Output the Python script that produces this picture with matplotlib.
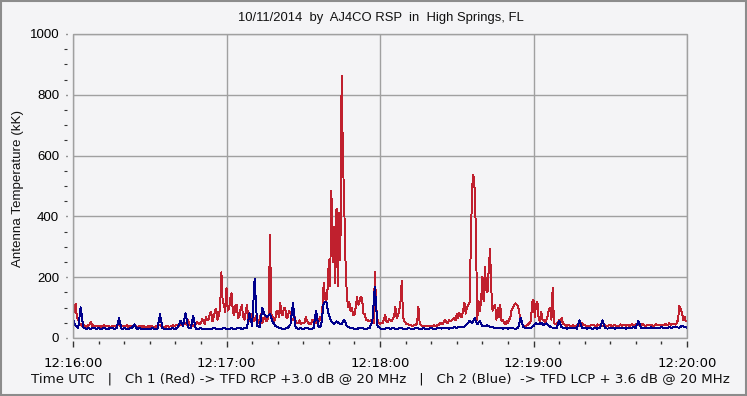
"""
Antenna temperature record, AJ4CO RSP, 10/11/2014
"""

import matplotlib
matplotlib.use('Agg')
import matplotlib.dates as mdates
import matplotlib.pyplot as plt
import numpy as np
from matplotlib.patches import Rectangle

# Ch 1, one value every half second, 12:16:00 .. 12:20:00 (kK)
red_kk = [
    75, 100, 112, 70, 60, 48, 45, 40, 40, 42, 38, 36, 42, 45, 54, 40, 42, 38, 38, 40,
    40, 38, 36, 40, 42, 38, 38, 41, 40, 37, 37, 40, 41, 38, 38, 42, 44, 39, 40, 38,
    38, 40, 42, 37, 37, 40, 40, 38, 38, 41, 36, 38, 40, 36, 38, 40, 35, 37, 37, 39,
    36, 39, 38, 35, 35, 38, 40, 42, 42, 38, 38, 36, 36, 39, 40, 37, 38, 40, 42, 39,
    40, 43, 44, 40, 50, 44, 45, 48, 48, 42, 59, 45, 42, 40, 40, 44, 45, 52, 50, 46,
    48, 62, 55, 45, 70, 58, 62, 80, 85, 55, 68, 90, 95, 60, 75, 100, 216, 120, 110, 85,
    165, 90, 95, 130, 147, 85, 75, 105, 110, 65, 70, 95, 108, 70, 60, 85, 108, 65, 55, 80,
    75, 55, 60, 72, 55, 48, 65, 80, 50, 62, 70, 55, 60, 75, 339, 80, 70, 55, 60, 85,
    90, 70, 114, 80, 75, 100, 95, 65, 70, 90, 80, 60, 60, 75, 55, 48, 50, 58, 45, 50,
    48, 52, 70, 55, 50, 45, 45, 58, 60, 48, 50, 62, 55, 70, 60, 100, 182, 130, 120, 160,
    256, 170, 483, 250, 366, 180, 426, 170, 410, 256, 863, 596, 443, 256, 147, 103, 120, 90, 100, 75,
    75, 100, 134, 110, 120, 136, 130, 80, 80, 60, 60, 55, 55, 60, 50, 48, 217, 100, 60, 50,
    45, 50, 48, 60, 76, 55, 52, 62, 60, 55, 62, 70, 103, 65, 75, 90, 120, 188, 70, 55,
    50, 45, 45, 42, 42, 40, 40, 43, 44, 48, 103, 50, 42, 40, 40, 38, 38, 40, 40, 38,
    38, 40, 42, 40, 40, 42, 44, 48, 50, 45, 55, 60, 52, 48, 60, 55, 58, 62, 65, 58,
    80, 65, 84, 70, 70, 90, 116, 80, 100, 110, 116, 300, 498, 536, 490, 345, 60, 122, 90, 120,
    202, 120, 235, 160, 150, 225, 293, 160, 90, 105, 110, 60, 100, 70, 110, 55, 60, 48, 45, 55,
    50, 60, 70, 95, 100, 110, 114, 110, 105, 80, 60, 45, 42, 40, 40, 42, 45, 50, 55, 120,
    125, 70, 110, 120, 65, 55, 87, 60, 58, 52, 60, 70, 92, 100, 60, 166, 50, 45, 45, 50,
    60, 50, 65, 48, 45, 42, 40, 44, 42, 40, 38, 42, 40, 38, 44, 40, 40, 45, 50, 42,
    42, 40, 40, 38, 38, 42, 42, 44, 40, 38, 45, 42, 40, 38, 38, 42, 42, 40, 40, 43,
    44, 40, 40, 42, 42, 38, 38, 41, 45, 40, 42, 44, 40, 42, 44, 40, 42, 46, 40, 38,
    45, 42, 44, 40, 42, 45, 45, 40, 40, 42, 42, 44, 44, 40, 40, 43, 45, 42, 42, 44,
    44, 41, 42, 45, 45, 42, 48, 44, 44, 46, 46, 44, 50, 60, 105, 95, 85, 60, 70, 55,
    55,
]

# Ch 2, one value per second (kK)
blue_kk = [
    60, 40, 32, 101, 35, 30, 32, 30, 34, 30,
    32, 30, 33, 30, 31, 34, 30, 32, 65, 30,
    32, 30, 31, 33, 45, 30, 32, 30, 29, 31,
    30, 32, 30, 31, 78, 32, 30, 31, 30, 32,
    30, 35, 56, 40, 81, 35, 32, 72, 31, 30,
    32, 30, 31, 29, 30, 33, 30, 31, 30, 32,
    31, 30, 32, 30, 31, 34, 30, 32, 33, 81,
    40, 194, 40, 35, 98, 75, 70, 78, 55, 40,
    35, 32, 30, 31, 33, 45, 114, 35, 30, 32,
    30, 33, 31, 30, 32, 90, 35, 40, 116, 120,
    75, 55, 45, 55, 48, 45, 60, 40, 35, 32,
    31, 30, 33, 32, 30, 31, 34, 55, 169, 40,
    32, 30, 31, 33, 30, 32, 31, 30, 34, 31,
    30, 32, 31, 30, 33, 31, 30, 32, 30, 31,
    32, 30, 31, 33, 31, 32, 34, 31, 33, 35,
    34, 36, 35, 38, 45, 56, 50, 65, 45, 56,
    40, 38, 42, 36, 35, 33, 34, 32, 31, 32,
    31, 33, 32, 30, 34, 65, 36, 33, 32, 34,
    40, 49, 45, 50, 42, 48, 40, 35, 33, 32,
    56, 35, 33, 31, 32, 34, 33, 31, 58, 33,
    32, 31, 33, 30, 32, 31, 33, 58, 32, 31,
    33, 32, 31, 34, 32, 33, 31, 32, 33, 35,
    34, 56, 33, 32, 34, 33, 35, 32, 34, 33,
    35, 34, 33, 35, 34, 36, 35, 34, 40, 36,
    34,
]

start_time = '2014-10-11T12:16:00'
title = '10/11/2014  by  AJ4CO RSP  in  High Springs, FL'
y_label = 'Antenna Temperature (kK)'
footer = ('Time UTC   |   Ch 1 (Red) -> TFD RCP +3.0 dB @ 20 MHz   |   '
          'Ch 2 (Blue)  -> TFD LCP + 3.6 dB @ 20 MHz')

BG = '#f4f4f6'
GRID = '#a0a0a0'

t0 = np.datetime64(start_time)
red_times = t0 + (np.arange(len(red_kk)) * 500).astype('timedelta64[ms]')
blue_times = t0 + np.arange(len(blue_kk)).astype('timedelta64[s]')

fig = plt.figure(figsize=(7.47, 3.96), dpi=100, facecolor=BG)
ax = fig.add_axes([73 / 747, 1 - 338 / 396, 614 / 747, 304 / 396])
ax.set_facecolor(BG)

ax.plot(red_times, red_kk, color='#c0202e', lw=0.7, antialiased=False, zorder=2)
ax.plot(blue_times, blue_kk, color='#00008c', lw=0.7, antialiased=False, zorder=2.1)

ax.set_xlim(t0, t0 + np.timedelta64(240, 's'))
ax.set_ylim(0, 1000)

ax.xaxis.set_major_locator(mdates.MinuteLocator())
ax.xaxis.set_minor_locator(mdates.SecondLocator(bysecond=range(0, 60, 10)))
ax.xaxis.set_major_formatter(mdates.DateFormatter('%H:%M:%S'))
ax.yaxis.set_major_locator(plt.MultipleLocator(200))
ax.yaxis.set_minor_locator(plt.MultipleLocator(50))

ax.grid(True, which='major', color=GRID, lw=1)

for side in ['left', 'bottom', 'top', 'right']:
    ax.spines[side].set_visible(False)
ax.spines['left'].set_position(('outward', 4))
ax.spines['bottom'].set_position(('outward', 2.5))
ax.add_patch(Rectangle((0, 0), 1, 1, transform=ax.transAxes, fill=False,
                       edgecolor=GRID, lw=1, clip_on=False, zorder=3))

ax.tick_params(axis='y', which='major', length=1, width=1, color='#333333',
               pad=5, labelsize=9.5)
ax.tick_params(axis='y', which='minor', length=2.3, width=0.8, color='#333333')
ax.tick_params(axis='x', which='major', length=4.3, width=1, color='#333333',
               pad=7, labelsize=9.5)
ax.tick_params(axis='x', which='minor', length=1.8, width=1, color='#333333')
for lab in ax.get_yticklabels():
    lab.set_fontfamily('Liberation Sans')
for lab in ax.get_xticklabels():
    lab.set_fontfamily('DejaVu Sans')

fig.text(381 / 747, 1 - 18 / 396, title, ha='center', va='center',
         fontsize=9.4, family='Liberation Sans', color='#111111')
fig.text(18 / 747, 1 - 188 / 396, y_label, ha='center', va='center',
         rotation=90, fontsize=9.6, family='Liberation Sans', color='#111111')
fig.text(380.5 / 747, 1 - 379 / 396, footer, ha='center', va='center',
         fontsize=9.6, family='DejaVu Sans', color='#111111')

# sunken window border
fig.patches.append(Rectangle((0.001, 0.002), 0.997, 0.995, transform=fig.transFigure,
                             fill=False, edgecolor='#8c8c8c', lw=1.5))

fig.savefig('out.png', dpi=100, facecolor=BG)
